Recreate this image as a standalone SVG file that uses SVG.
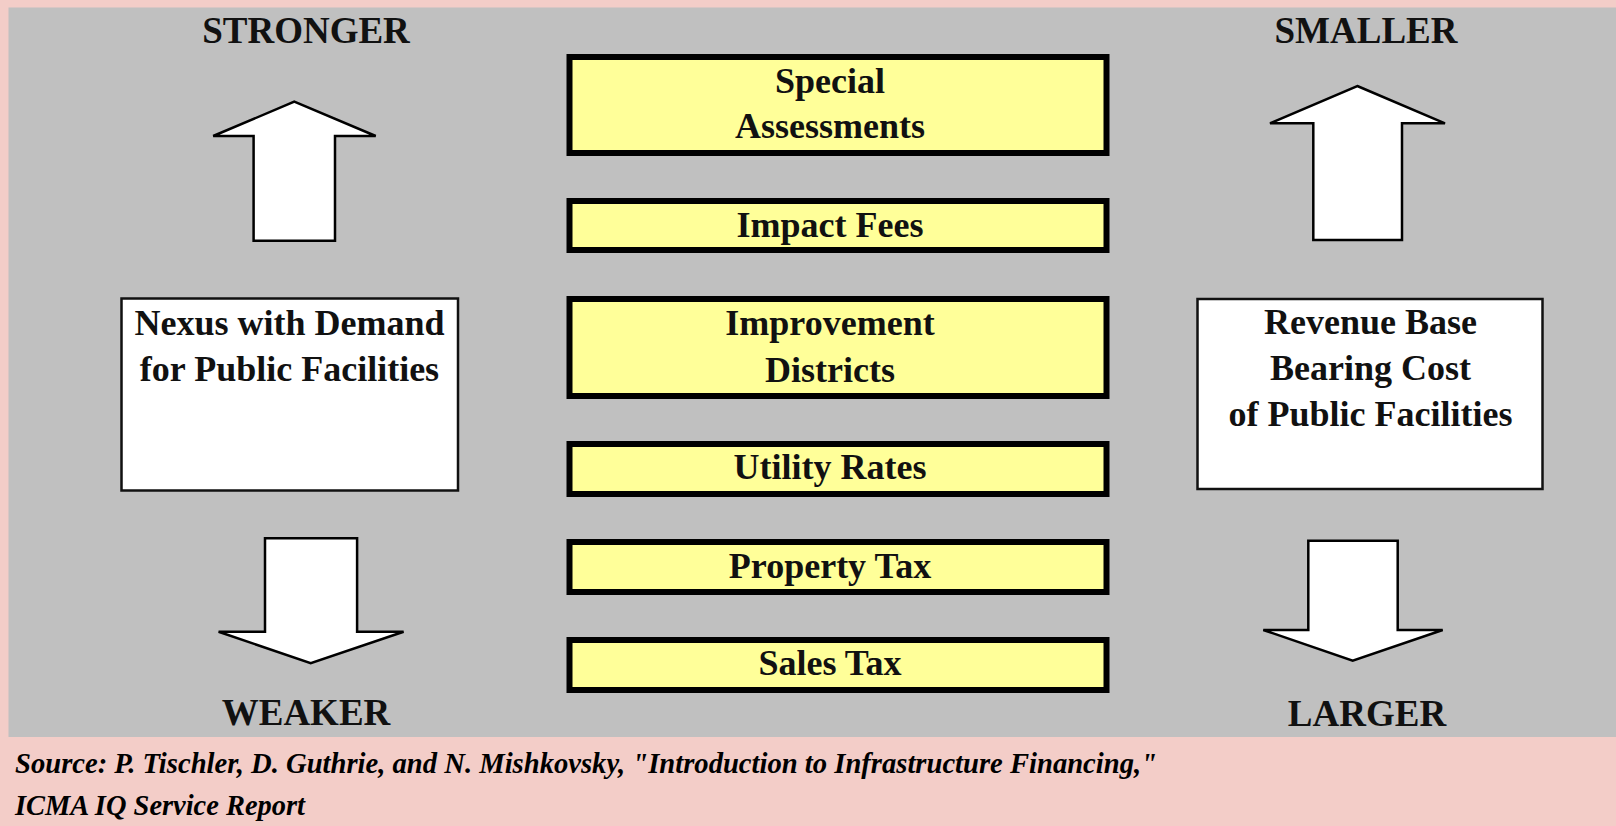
<svg xmlns="http://www.w3.org/2000/svg" width="1616" height="826" viewBox="0 0 1616 826">
<style>
  .lbl { font-family: "Liberation Serif", "Times New Roman", serif; font-weight: bold; fill: #111; text-anchor: middle; }
  .big { font-size: 37px; }
  .box { font-size: 36px; }
  .ybox { fill: #ffff99; stroke: #000; stroke-width: 6; }
  .wbox { fill: #fff; stroke: #111; stroke-width: 2.5; }
  .arrow { fill: #fff; stroke: #000; stroke-width: 2.5; stroke-linejoin: miter; }
  .cap { font-family: "Liberation Serif", "Times New Roman", serif; font-weight: bold; font-style: italic; font-size: 30px; fill: #000; }
</style>
<rect x="0" y="0" width="1616" height="826" fill="#f3cdc8"/>
<rect x="8.5" y="7.5" width="1607.5" height="729.5" fill="#c0c0c0"/>

<g id="label-stronger"><text class="lbl big" x="306" y="43">STRONGER</text></g>
<g id="label-weaker"><text class="lbl big" x="306" y="725">WEAKER</text></g>
<g id="label-smaller"><text class="lbl big" x="1366" y="43">SMALLER</text></g>
<g id="label-larger"><text class="lbl big" x="1367" y="726">LARGER</text></g>

<g id="connectors">
  <polygon class="arrow" points="294.3,101.7 375.7,136 335,136 335,240.7 253.6,240.7 253.6,136 213.2,136"/>
  <polygon class="arrow" points="265,538.3 357.1,538.3 357.1,631.7 403.6,631.7 310.7,663.3 218.6,631.7 265,631.7"/>
  <polygon class="arrow" points="1357.3,86 1445,123.3 1402,123.3 1402,240 1313.3,240 1313.3,123.3 1270,123.3"/>
  <polygon class="arrow" points="1308.3,540.7 1397.7,540.7 1397.7,630 1442.7,630 1352.7,660.7 1263.3,630 1308.3,630"/>
</g>

<g id="nexus">
  <rect class="wbox" x="121.5" y="298.5" width="336.5" height="192"/>
  <text class="lbl box" x="289.5" y="335">Nexus with Demand</text>
  <text class="lbl box" x="289.5" y="380.5">for Public Facilities</text>
</g>

<g id="revenue-base">
  <rect class="wbox" x="1197.5" y="299" width="345" height="190"/>
  <text class="lbl box" x="1370.5" y="334">Revenue Base</text>
  <text class="lbl box" x="1370.5" y="380">Bearing Cost</text>
  <text class="lbl box" x="1370.5" y="426">of Public Facilities</text>
</g>

<g id="special-assessments">
  <rect class="ybox" x="569.5" y="57" width="537" height="96"/>
  <text class="lbl box" x="830" y="93.3">Special</text>
  <text class="lbl box" x="830" y="138.3">Assessments</text>
</g>
<g id="impact-fees">
  <rect class="ybox" x="569.5" y="201" width="537" height="49"/>
  <text class="lbl box" x="830" y="236.7">Impact Fees</text>
</g>
<g id="improvement-districts">
  <rect class="ybox" x="569.5" y="299" width="537" height="97"/>
  <text class="lbl box" x="830" y="335">Improvement</text>
  <text class="lbl box" x="830" y="381.7">Districts</text>
</g>
<g id="utility-rates">
  <rect class="ybox" x="569.5" y="444" width="537" height="50"/>
  <text class="lbl box" x="830" y="479.3">Utility Rates</text>
</g>
<g id="property-tax">
  <rect class="ybox" x="569.5" y="542" width="537" height="50"/>
  <text class="lbl box" x="830" y="578.3">Property Tax</text>
</g>
<g id="sales-tax">
  <rect class="ybox" x="569.5" y="640" width="537" height="50"/>
  <text class="lbl box" x="830" y="675">Sales Tax</text>
</g>

<g id="caption">
  <text class="cap" x="15" y="773" textLength="1142" lengthAdjust="spacingAndGlyphs">Source: P. Tischler, D. Guthrie, and N. Mishkovsky, "Introduction to Infrastructure Financing,"</text>
  <text class="cap" x="15" y="815" textLength="290" lengthAdjust="spacingAndGlyphs">ICMA IQ Service Report</text>
</g>
</svg>
